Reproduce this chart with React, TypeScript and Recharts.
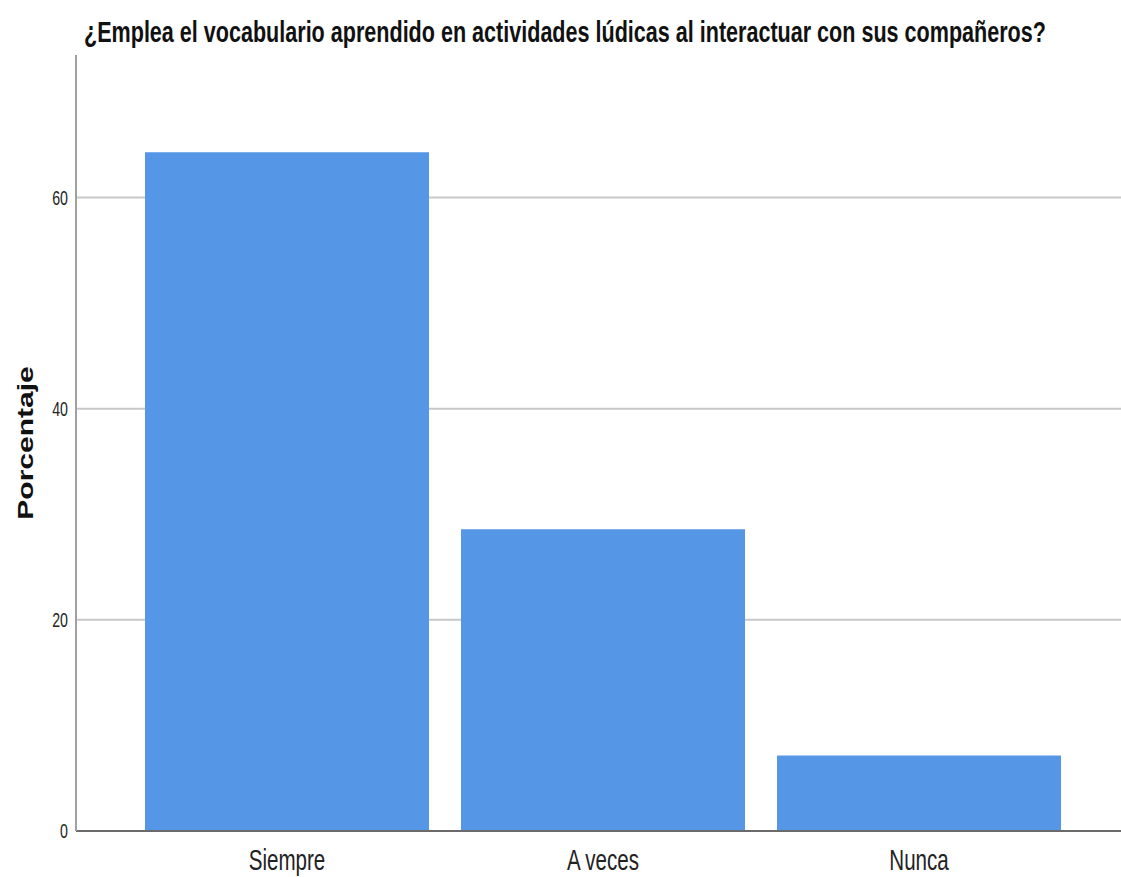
import { Bar, BarChart, CartesianGrid, XAxis, YAxis } from 'recharts';

document.body.style.margin = '0';

const categories = ['Siempre', 'A veces', 'Nunca'];
const porcentaje = [64.29, 28.57, 7.14];
const yTicks = [0, 20, 40, 60];

const rows = categories.map((c, i) => ({ categoria: c, porcentaje: porcentaje[i] }));

// the original export is squeezed horizontally, so every label is too
const SQUEEZE = 0.71;
const font = '"Liberation Sans", Arial, sans-serif';

function CategoryTick(props: any) {
  const { x, y, payload } = props;
  return (
    <text
      transform={`translate(${x},${y + 39}) scale(${SQUEEZE},1)`}
      textAnchor="middle"
      fontFamily={font}
      fontSize={29}
      fill="#222"
    >
      {payload.value}
    </text>
  );
}

function ValueTick(props: any) {
  const { x, y, payload } = props;
  return (
    <text
      transform={`translate(${x},${y + 7}) scale(${SQUEEZE},1)`}
      textAnchor="end"
      fontFamily={font}
      fontSize={20}
      fill="#222"
    >
      {payload.value}
    </text>
  );
}

export default function App() {
  return (
    <div style={{ position: 'relative', width: 1121, height: 877, background: '#fff' }}>
      <svg width={1121} height={60} style={{ position: 'absolute', left: 0, top: 0, zIndex: 1 }}>
        <text
          transform="translate(84,42) scale(0.719,1)"
          fontFamily={font}
          fontWeight="bold"
          fontSize={30}
          fill="#111"
        >
          ¿Emplea el vocabulario aprendido en actividades lúdicas al interactuar con sus compañeros?
        </text>
      </svg>
      <BarChart
        width={1121}
        height={877}
        data={rows}
        margin={{ top: 55, right: 0, left: 0, bottom: 0 }}
        barSize={284}
      >
        <CartesianGrid vertical={false} stroke="#c8c8c8" strokeWidth={2} horizontalValues={[20, 40, 60]} />
        <XAxis
          dataKey="categoria"
          height={46}
          axisLine={{ stroke: '#6a6a6a', strokeWidth: 2 }}
          tickLine={false}
          tickSize={0}
          tickMargin={0}
          padding={{ left: 53, right: 44 }}
          tick={<CategoryTick />}
        />
        <YAxis
          width={76}
          domain={[0, 73.5]}
          ticks={yTicks}
          axisLine={{ stroke: '#a0a0a0', strokeWidth: 2 }}
          tickLine={false}
          tickSize={0}
          tickMargin={8}
          tick={<ValueTick />}
          label={() => (
            <text
              transform={`translate(26,443) scale(${SQUEEZE},1) rotate(-90)`}
              textAnchor="middle"
              dominantBaseline="central"
              fontFamily={font}
              fontWeight="bold"
              fontSize={30}
              fill="#111"
            >
              Porcentaje
            </text>
          )}
        />
        <Bar dataKey="porcentaje" fill="#5596e6" isAnimationActive={false} />
      </BarChart>
    </div>
  );
}
